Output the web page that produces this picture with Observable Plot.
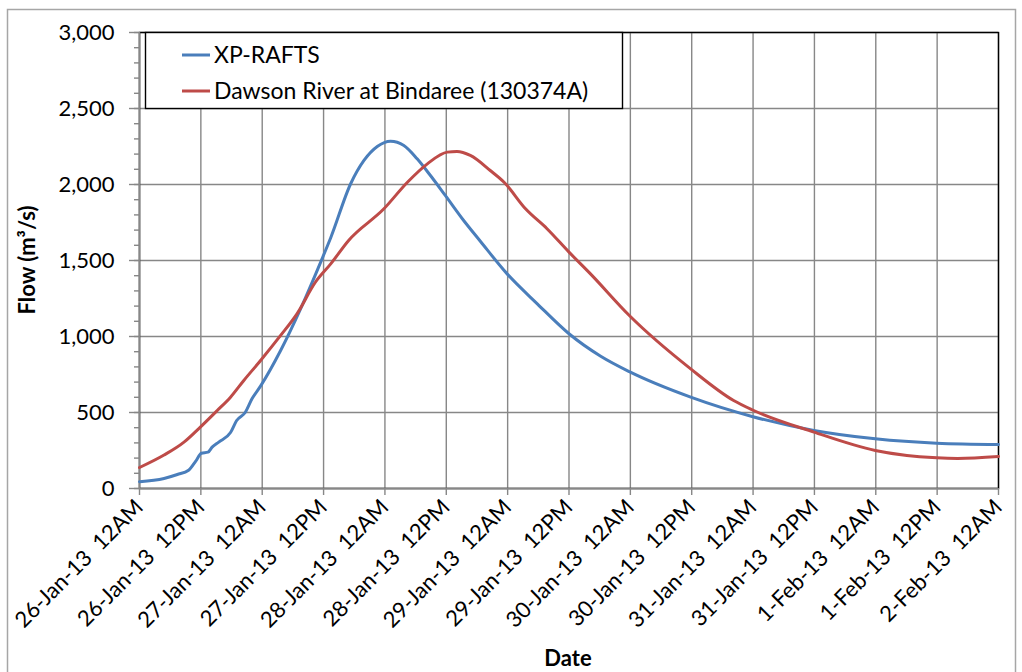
<!DOCTYPE html>
<html>
<head>
<meta charset="utf-8">
<script src="https://cdn.jsdelivr.net/npm/d3@7"></script>
<script src="https://cdn.jsdelivr.net/npm/@observablehq/plot@0.6"></script>
<style>
  body { margin: 0; background: #fff; }
  svg text { white-space: pre; }
</style>
</head>
<body>
<div id="chart"></div>
<script>
// Hours since 26-Jan-13 12AM
const seriesNames = ["XP-RAFTS", "Dawson River at Bindaree (130374A)"];
const seriesColors = ["#4a7ebb", "#be4b48"];

const blueHours = [0, 4.8, 7.4, 9.6, 11, 12.1, 13.4, 14.2, 15.5, 17.8, 19, 20.7, 22, 23.7, 27.6, 31.5, 35.7, 37.4, 41.3, 43.9, 46.5, 49.1, 51.7, 54.3, 56.9, 59.8, 63.4, 66.7, 71.9, 77.8, 84, 90.2, 95.9, 107.8, 119.8, 131.9, 143.9, 155.9, 168];
const blueFlow  = [45, 66, 92, 120, 180, 232, 239, 272, 305, 368, 447, 502, 590, 675, 908, 1182, 1511, 1650, 2005, 2158, 2250, 2285, 2257, 2169, 2059, 1928, 1763, 1625, 1412, 1215, 1018, 870, 767, 601, 474, 382, 327, 298, 289];

const redHours = [0, 4.8, 8.7, 11.8, 15.2, 17.8, 20.4, 23.8, 27.6, 30.8, 34.4, 37.4, 40.9, 47.8, 52.4, 56.3, 60.2, 62.1, 64.7, 68.6, 71.3, 75.5, 79.7, 84, 88.2, 95.8, 107.8, 116.2, 119.8, 131.9, 143.9, 155.9, 160, 168];
const redFlow  = [138, 220, 305, 401, 513, 601, 711, 847, 1007, 1149, 1357, 1478, 1632, 1840, 2015, 2136, 2213, 2217, 2191, 2092, 2015, 1840, 1709, 1555, 1412, 1138, 787, 579, 518, 371, 250, 202, 198, 211];

const xTickHours = [0, 12, 24, 36, 48, 60, 72, 84, 96, 108, 120, 132, 144, 156, 168];
const xTickLabels = ["26-Jan-13  12AM", "26-Jan-13  12PM", "27-Jan-13  12AM", "27-Jan-13  12PM",
  "28-Jan-13  12AM", "28-Jan-13  12PM", "29-Jan-13  12AM", "29-Jan-13  12PM",
  "30-Jan-13  12AM", "30-Jan-13  12PM", "31-Jan-13  12AM", "31-Jan-13  12PM",
  "1-Feb-13  12AM", "1-Feb-13  12PM", "2-Feb-13  12AM"];
const yTicks = [0, 500, 1000, 1500, 2000, 2500, 3000];
const yMinorTicks = d3.range(0, 3001, 100);

const data = [
  ...blueHours.map((h, i) => ({h, flow: blueFlow[i], s: seriesNames[0]})),
  ...redHours.map((h, i) => ({h, flow: redFlow[i], s: seriesNames[1]}))
];

const W = 1022, H = 672;
const mL = 139, mR = 24, mT = 32, mB = 184;
const FONT = "Lato, 'Open Sans', sans-serif";

const chart = Plot.plot({
  width: W, height: H,
  marginLeft: mL, marginRight: mR, marginTop: mT, marginBottom: mB,
  style: {fontFamily: FONT, fontSize: "22px", color: "#000", background: "#fff"},
  x: {domain: [0, 168]},
  y: {domain: [0, 3000]},
  color: {domain: seriesNames, range: seriesColors},
  marks: [
    Plot.gridX(xTickHours, {stroke: "#878787", strokeOpacity: 1, strokeWidth: 1.4}),
    Plot.gridY(yTicks, {stroke: "#878787", strokeOpacity: 1, strokeWidth: 1.4}),
    Plot.frame({stroke: "#000", strokeWidth: 1.4}),
    Plot.axisY(yMinorTicks, {tickSize: 5, tickFormat: () => "", stroke: "#878787", strokeWidth: 1.4, label: null}),
    Plot.axisY(yTicks, {tickSize: 10, tickPadding: 15, tickFormat: d3.format(","), stroke: "#878787", strokeWidth: 1.4, fontSize: 22, label: null}),
    Plot.axisX(xTickHours, {tickSize: 7, tickPadding: 8, tickRotate: -45, tickFormat: (d) => xTickLabels[xTickHours.indexOf(d)], stroke: "#878787", strokeWidth: 1.4, fontSize: 22, label: null}),
    Plot.ruleX([0], {stroke: "#878787", strokeWidth: 1.4}),
    Plot.ruleY([0], {stroke: "#878787", strokeWidth: 1.4}),
    Plot.line(data, {x: "h", y: "flow", z: "s", stroke: "s", strokeWidth: 3, curve: "monotone-x"})
  ]
});

document.getElementById("chart").appendChild(chart);

const svg = d3.select(chart);
// outer chart border
svg.insert("rect", ":first-child")
  .attr("x", 7.5).attr("y", 9.5).attr("width", W - 14).attr("height", H)
  .attr("fill", "none").attr("stroke", "#a6a6a6").attr("stroke-width", 1.5);

// axis titles
svg.append("text").attr("x", 568).attr("y", 666)
  .attr("text-anchor", "middle").attr("font-weight", "bold").attr("font-size", 22)
  .text("Date");
svg.append("text").attr("transform", "translate(35,260) rotate(-90)")
  .attr("text-anchor", "middle").attr("font-weight", "bold").attr("font-size", 22)
  .text("Flow (m³/s)");

// legend
const lg = svg.append("g");
lg.append("rect").attr("x", 145.5).attr("y", 32.5).attr("width", 477).attr("height", 76)
  .attr("fill", "#fff").attr("stroke", "#000").attr("stroke-width", 1.4);
seriesNames.forEach((name, i) => {
  const yy = 55 + i * 36;
  lg.append("line").attr("x1", 182).attr("x2", 210).attr("y1", yy).attr("y2", yy)
    .attr("stroke", seriesColors[i]).attr("stroke-width", 3);
  lg.append("text").attr("x", 214).attr("y", yy).attr("dy", "0.35em")
    .attr("text-anchor", "start").attr("font-size", 23).text(name);
});
</script>
</body>
</html>
